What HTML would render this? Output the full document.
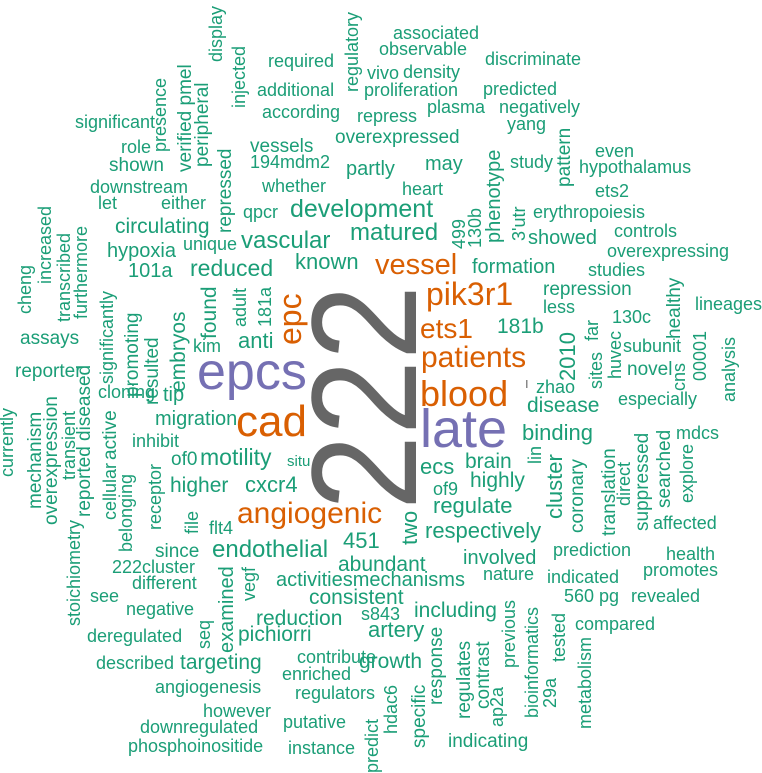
<!DOCTYPE html>
<html><head><meta charset="utf-8"><style>
html,body{margin:0;padding:0;background:#fff;}
svg{display:block;font-family:"Liberation Sans",Arial,sans-serif;}
.g{fill:#1b9e77}.o{fill:#d95f02}.p{fill:#7570b3}.k{fill:#666}
</style></head><body>
<svg width="762" height="773" viewBox="0 0 762 773" xmlns="http://www.w3.org/2000/svg">
<g font-size="18" class="g">
<text x="393" y="39">associated</text>
<text x="379" y="55">observable</text>
<text x="485" y="65">discriminate</text>
<text x="268" y="67">required</text>
<text x="367" y="79">vivo</text>
<text x="403" y="78">density</text>
<text x="483" y="95">predicted</text>
<text x="257" y="96">additional</text>
<text x="364" y="96">proliferation</text>
<text x="262" y="118">according</text>
<text x="357" y="122">repress</text>
<text x="427" y="113">plasma</text>
<text x="499" y="113">negatively</text>
<text x="75" y="128">significant</text>
<text x="121" y="153">role</text>
<text x="335" y="143" font-size="19">overexpressed</text>
<text x="507" y="130">yang</text>
<text x="250" y="152" font-size="19">vessels</text>
<text x="109" y="171" font-size="19">shown</text>
<text x="250" y="168">194mdm2</text>
<text x="346" y="175" font-size="20">partly</text>
<text x="425" y="170" font-size="20">may</text>
<text x="510" y="168">study</text>
<text x="595" y="157">even</text>
<text x="579" y="173">hypothalamus</text>
<text x="90" y="193">downstream</text>
<text x="262" y="192">whether</text>
<text x="402" y="195">heart</text>
<text x="98" y="209">let</text>
<text x="161" y="209">either</text>
<text x="595" y="197">ets2</text>
<text x="533" y="218">erythropoiesis</text>
<text x="243" y="218">qpcr</text>
<text x="183" y="250">unique</text>
<text x="614" y="237">controls</text>
<text x="607" y="257">overexpressing</text>
<text x="588" y="276">studies</text>
<text x="543" y="313">less</text>
<text x="612" y="323">130c</text>
<text x="695" y="310">lineages</text>
<text x="20" y="344" font-size="19">assays</text>
<text x="623" y="352">subunit</text>
<text x="15" y="377" font-size="19">reporter</text>
<text x="627" y="375" font-size="19">novel</text>
<text x="536" y="393">zhao</text>
<text x="618" y="405">especially</text>
<text x="193" y="352">kim</text>
<text x="98" y="398">cloning</text>
<text x="132" y="447">inhibit</text>
<text x="676" y="439">mdcs</text>
<text x="171" y="465" font-size="19">of0</text>
<text x="433" y="495">of9</text>
<text x="287" y="466" font-size="15">situ</text>
<text x="653" y="529">affected</text>
<text x="155" y="557" font-size="19">since</text>
<text x="209" y="534">flt4</text>
<text x="553" y="556">prediction</text>
<text x="112" y="573">222cluster</text>
<text x="666" y="560">health</text>
<text x="132" y="589">different</text>
<text x="483" y="580">nature</text>
<text x="547" y="583">indicated</text>
<text x="643" y="576">promotes</text>
<text x="564" y="602">560 pg</text>
<text x="631" y="602">revealed</text>
<text x="90" y="602">see</text>
<text x="126" y="615">negative</text>
<text x="361" y="620">s843</text>
<text x="87" y="642">deregulated</text>
<text x="575" y="630">compared</text>
<text x="297" y="663">contribute</text>
<text x="96" y="669">described</text>
<text x="282" y="680">enriched</text>
<text x="155" y="693">angiogenesis</text>
<text x="295" y="699">regulators</text>
<text x="203" y="717">however</text>
<text x="283" y="728">putative</text>
<text x="140" y="733">downregulated</text>
<text x="288" y="754">instance</text>
<text x="448" y="747" font-size="19">indicating</text>
<text x="128" y="752">phosphoinositide</text>
</g>
<g class="g">
<text x="290" y="217" font-size="25">development</text>
<text x="115" y="233" font-size="21">circulating</text>
<text x="241" y="248" font-size="24">vascular</text>
<text x="350" y="240" font-size="24">matured</text>
<text x="528" y="244" font-size="20">showed</text>
<text x="295" y="269" font-size="22">known</text>
<text x="472" y="273" font-size="20">formation</text>
<text x="107" y="257" font-size="20">hypoxia</text>
<text x="128" y="277" font-size="20">101a</text>
<text x="190" y="276" font-size="23">reduced</text>
<text x="543" y="295" font-size="19">repression</text>
<text x="497" y="333" font-size="21">181b</text>
<text x="238" y="348" font-size="22">anti</text>
<text x="527" y="412" font-size="21">disease</text>
<text x="155" y="425" font-size="20">migration</text>
<text x="163" y="401" font-size="20">tip</text>
<text x="522" y="440" font-size="22">binding</text>
<text x="200" y="465" font-size="23">motility</text>
<text x="465" y="468" font-size="21">brain</text>
<text x="420" y="474" font-size="22">ecs</text>
<text x="470" y="487" font-size="21">highly</text>
<text x="170" y="492" font-size="21">higher</text>
<text x="245" y="492" font-size="22">cxcr4</text>
<text x="433" y="513" font-size="22">regulate</text>
<text x="425" y="538" font-size="22">respectively</text>
<text x="212" y="557" font-size="24">endothelial</text>
<text x="343" y="548" font-size="22">451</text>
<text x="338" y="571" font-size="21">abundant</text>
<text x="463" y="564" font-size="20">involved</text>
<text x="276" y="586" font-size="20">activitiesmechanisms</text>
<text x="309" y="604" font-size="21">consistent</text>
<text x="414" y="617" font-size="21">including</text>
<text x="256" y="625" font-size="21">reduction</text>
<text x="368" y="637" font-size="22">artery</text>
<text x="238" y="641" font-size="21">pichiorri</text>
<text x="359" y="668" font-size="21">growth</text>
<text x="180" y="669" font-size="21">targeting</text>
</g>
<g class="o">
<text x="375" y="274" font-size="29">vessel</text>
<text x="426" y="305" font-size="32">pik3r1</text>
<text x="420" y="338" font-size="28">ets1</text>
<text x="421" y="367" font-size="30">patients</text>
<text x="420" y="406" font-size="36">blood</text>
<text x="236" y="436" font-size="44">cad</text>
<text x="237" y="523" font-size="30">angiogenic</text>
<text transform="translate(301,345) rotate(-90)" font-size="32">epc</text>
</g>
<g class="p">
<text x="197" y="389" font-size="52">epcs</text>
<text x="420" y="447" font-size="54">late</text>
</g>
<rect x="526" y="380" width="1.5" height="8" fill="#888"/>
<text class="k" transform="translate(416,510) rotate(-90)" font-size="150" textLength="225" lengthAdjust="spacingAndGlyphs">222</text>
<g class="g" font-size="18">
<text transform="translate(358,92) rotate(-90)">regulatory</text>
<text transform="translate(222,62) rotate(-90)">display</text>
<text transform="translate(191,172) rotate(-90)" font-size="19">verified pmel</text>
<text transform="translate(166,152) rotate(-90)">presence</text>
<text transform="translate(245,108) rotate(-90)">injected</text>
<text transform="translate(208,167) rotate(-90)" font-size="19">peripheral</text>
<text transform="translate(231,233) rotate(-90)" font-size="19">repressed</text>
<text transform="translate(500,243) rotate(-90)" font-size="20">phenotype</text>
<text transform="translate(570,187) rotate(-90)" font-size="19">pattern</text>
<text transform="translate(481,248) rotate(-90)">130b</text>
<text transform="translate(465,249) rotate(-90)">499</text>
<text transform="translate(525,241) rotate(-90)">3'utr</text>
<text transform="translate(51,284) rotate(-90)">increased</text>
<text transform="translate(70,322) rotate(-90)">transcribed</text>
<text transform="translate(87,319) rotate(-90)">furthermore</text>
<text transform="translate(31,314) rotate(-90)">cheng</text>
<text transform="translate(113,384) rotate(-90)">significantly</text>
<text transform="translate(271,327) rotate(-90)">181a</text>
<text transform="translate(246,327) rotate(-90)">adult</text>
<text transform="translate(216,339) rotate(-90)" font-size="21">found</text>
<text transform="translate(138,397) rotate(-90)" font-size="19">promoting</text>
<text transform="translate(158,405) rotate(-90)" font-size="19">resulted</text>
<text transform="translate(185,392) rotate(-90)" font-size="21">embryos</text>
<text transform="translate(575,381) rotate(-90)" font-size="22">2010</text>
<text transform="translate(602,389) rotate(-90)">sites</text>
<text transform="translate(621,379) rotate(-90)">huvec</text>
<text transform="translate(680,339) rotate(-90)" font-size="19">healthy</text>
<text transform="translate(685,391) rotate(-90)">cns</text>
<text transform="translate(706,381) rotate(-90)">00001</text>
<text transform="translate(735,402) rotate(-90)">analysis</text>
<text transform="translate(598,341) rotate(-90)">far</text>
<text transform="translate(13,477) rotate(-90)">currently</text>
<text transform="translate(41,509) rotate(-90)" font-size="19">mechanism</text>
<text transform="translate(57,525) rotate(-90)" font-size="19">overexpression</text>
<text transform="translate(75,480) rotate(-90)">transient</text>
<text transform="translate(90,517) rotate(-90)" font-size="19">reported diseased</text>
<text transform="translate(116,460) rotate(-90)" font-size="19">active</text>
<text transform="translate(161,530) rotate(-90)">receptor</text>
<text transform="translate(116,520) rotate(-90)">cellular</text>
<text transform="translate(132,552) rotate(-90)">belonging</text>
<text transform="translate(80,626) rotate(-90)">stoichiometry</text>
<text transform="translate(562,519) rotate(-90)" font-size="22">cluster</text>
<text transform="translate(583,533) rotate(-90)" font-size="19">coronary</text>
<text transform="translate(541,464) rotate(-90)">lin</text>
<text transform="translate(615,536) rotate(-90)" font-size="19">translation</text>
<text transform="translate(630,506) rotate(-90)">direct</text>
<text transform="translate(648,531) rotate(-90)" font-size="19">suppressed</text>
<text transform="translate(670,508) rotate(-90)" font-size="19">searched</text>
<text transform="translate(693,503) rotate(-90)">explore</text>
<text transform="translate(417,545) rotate(-90)" font-size="22">two</text>
<text transform="translate(198,534) rotate(-90)">file</text>
<text transform="translate(255,601) rotate(-90)">vegf</text>
<text transform="translate(233,653) rotate(-90)" font-size="20">examined</text>
<text transform="translate(210,649) rotate(-90)">seq</text>
<text transform="translate(515,668) rotate(-90)">previous</text>
<text transform="translate(538,718) rotate(-90)">bioinformatics</text>
<text transform="translate(565,662) rotate(-90)">tested</text>
<text transform="translate(556,708) rotate(-90)">29a</text>
<text transform="translate(591,729) rotate(-90)">metabolism</text>
<text transform="translate(442,705) rotate(-90)" font-size="19">response</text>
<text transform="translate(489,709) rotate(-90)" font-size="19">contrast</text>
<text transform="translate(503,727) rotate(-90)">ap2a</text>
<text transform="translate(470,719) rotate(-90)" font-size="19">regulates</text>
<text transform="translate(425,748) rotate(-90)" font-size="19">specific</text>
<text transform="translate(397,734) rotate(-90)">hdac6</text>
<text transform="translate(378,773) rotate(-90)">predict</text>
</g>
</svg>
</body></html>
